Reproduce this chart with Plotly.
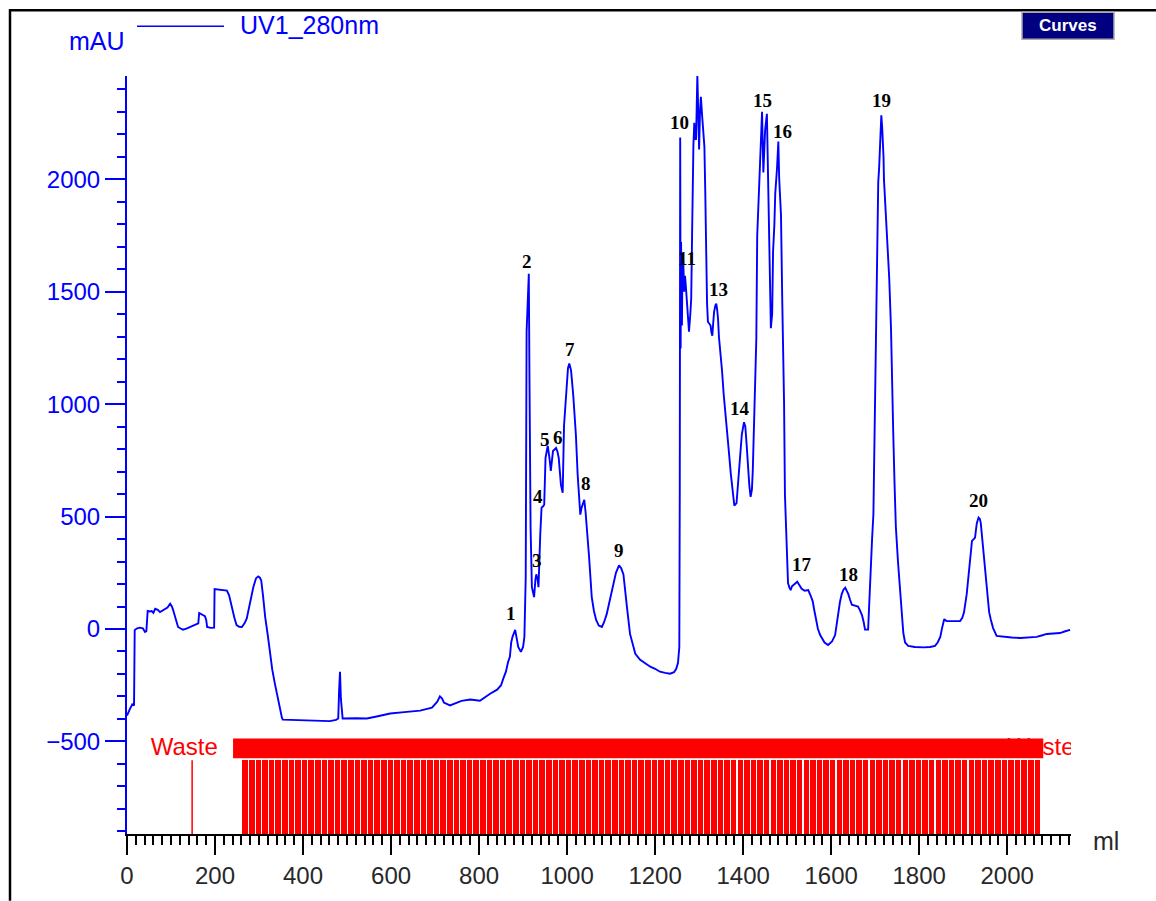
import plotly.graph_objects as go

# UV 280 nm chromatogram: elution volume (ml) vs absorbance (mAU)
volume_ml = [
    0, 3, 7, 12, 16, 17.5, 22, 29, 36, 41, 44, 47, 52, 56, 60, 64, 70, 75, 80, 86,
    92, 98, 102, 105, 110, 116, 122, 127, 135, 143, 150, 159, 162, 164, 170, 177, 180, 182, 190, 198,
    199, 210, 220, 227, 232, 238, 244, 249, 255, 261, 267, 272, 280, 287, 293, 298, 302, 305, 309, 314,
    320, 325, 330, 336, 342, 348, 352, 354, 380, 416, 440, 461, 475, 480, 482, 484, 486, 488, 490, 520,
    545, 570, 598, 630, 666, 693, 705, 711, 716, 720, 734, 760, 780, 802, 815, 825, 841, 850, 855, 861,
    866, 870, 873, 876, 882, 886, 889, 895, 900, 903, 906, 908, 911, 913, 914.5, 917, 920, 923, 925, 928,
    930, 933, 935, 939, 942, 945, 948, 951, 956, 960, 963, 968, 972, 975, 978, 981, 986, 990, 993, 996,
    999, 1002, 1005, 1009, 1014, 1020, 1024, 1030, 1033, 1036, 1039, 1042, 1045, 1050, 1056, 1061, 1066, 1072, 1079, 1084,
    1090, 1097, 1105, 1111, 1118, 1123, 1128, 1132, 1136, 1143, 1150, 1155, 1166, 1178, 1189, 1200, 1211, 1223, 1234, 1243,
    1248, 1252, 1255, 1256, 1257, 1258, 1259, 1261, 1262, 1264, 1266, 1268, 1270, 1272, 1275, 1277, 1280, 1282, 1284, 1285,
    1287, 1289, 1291, 1293, 1295, 1296, 1298, 1300, 1302, 1304, 1307, 1310, 1312, 1314, 1316, 1318, 1320, 1323, 1326, 1328,
    1330, 1332, 1334, 1337, 1339, 1341, 1343, 1345, 1348, 1352, 1356, 1360, 1364, 1368, 1372, 1377, 1380, 1385, 1390, 1393,
    1397, 1402, 1405, 1408, 1411, 1414, 1417, 1420, 1422, 1425, 1428, 1430, 1432, 1434, 1436, 1440, 1443, 1446, 1450, 1454,
    1456, 1459, 1463, 1466, 1468, 1471, 1473, 1477, 1480, 1482, 1486, 1489, 1493, 1495, 1499, 1502, 1505, 1508, 1511, 1514,
    1518, 1523, 1528, 1533, 1540, 1548, 1553, 1558, 1562, 1566, 1570, 1575, 1585, 1593, 1602, 1609, 1612, 1616, 1620, 1624,
    1628, 1632, 1636, 1639, 1643, 1647, 1654, 1661, 1665, 1670, 1674, 1677, 1684, 1686, 1689, 1693, 1696, 1698, 1700, 1702,
    1704, 1706, 1707, 1709, 1711, 1713, 1714, 1716, 1717, 1719, 1720, 1723, 1726, 1729, 1732, 1736, 1738, 1741, 1744, 1747,
    1752, 1757, 1760, 1764, 1768, 1775, 1790, 1810, 1825, 1836, 1842, 1848, 1852, 1857, 1860, 1863, 1878, 1893, 1898, 1902,
    1908, 1914, 1920, 1924, 1927, 1929, 1931, 1935, 1938, 1940, 1945, 1949, 1952, 1956, 1959, 1963, 1968, 1976, 1990, 2010,
    2030, 2050, 2067, 2080, 2090, 2105, 2120, 2132, 2143,
]
uv280_mau = [
    -385, -370, -354, -335, -340, -5, 2, 6, 3, -13, -10, 80, 78, 80, 72, 90, 85, 75, 82, 88,
    95, 112, 100, 83, 50, 9, 2, -3, 2, 9, 15, 23, 25, 71, 65, 57, 40, 9, 5, 6,
    178, 175, 172, 171, 150, 97, 50, 17, 10, 9, 25, 46, 120, 186, 225, 234, 228, 216, 150, 53,
    -30, -110, -180, -243, -305, -360, -395, -403, -405, -407, -409, -410, -404, -398, -271, -190, -310, -380, -398, -397,
    -398, -388, -376, -370, -363, -350, -323, -300, -310, -327, -340, -320, -314, -319, -300, -288, -270, -250, -221, -190,
    -146, -124, -60, -35, -4, -40, -80, -102, -80, -35, 230, 1323, 1500, 1580, 1115, 451, 186, 160, 142, 220,
    243, 220, 186, 420, 540, 545, 553, 761, 814, 760, 703, 792, 800, 805, 790, 761, 641, 606, 903, 1000,
    1071, 1160, 1181, 1150, 1040, 863, 686, 509, 540, 555, 575, 520, 451, 319, 142, 80, 40, 15, 9, 30,
    66, 130, 199, 250, 283, 270, 243, 180, 97, -22, -80, -110, -137, -155, -168, -177, -190, -195, -199, -192,
    -177, -150, -80, 600, 2186, 1248, 1721, 1350, 1600, 1633, 1500, 1571, 1520, 1456, 1380, 1323, 1400, 1469, 1750, 2000,
    2150, 2252, 2180, 2177, 2350, 2465, 2300, 2133, 2300, 2367, 2279, 2200, 2146, 1942, 1588, 1450, 1367, 1360, 1350, 1320,
    1305, 1360, 1411, 1440, 1447, 1420, 1380, 1300, 1248, 1150, 1040, 960, 894, 780, 690, 584, 549, 560, 700, 757,
    865, 920, 900, 819, 708, 640, 588, 620, 708, 969, 1150, 1292, 1748, 1850, 1969, 2119, 2301, 2031, 2221, 2292,
    2031, 1700, 1338, 1403, 1677, 1800, 1938, 2049, 2168, 2000, 1843, 1449, 1009, 597, 360, 204, 185, 173, 190, 195,
    200, 210, 195, 179, 170, 173, 150, 124, 80, 31, 0, -27, -60, -71, -55, -27, 20, 75, 120, 155,
    175, 184, 170, 155, 130, 108, 104, 100, 85, 62, 30, -3, -3, 100, 235, 400, 510, 800, 1022, 1300,
    1591, 1800, 1987, 2050, 2150, 2200, 2285, 2230, 2190, 2100, 2000, 1900, 1780, 1680, 1559, 1338, 1100, 880, 650, 456,
    296, 173, 90, -18, -60, -75, -80, -82, -80, -75, -60, -35, 4, 44, 38, 35, 35, 35, 50, 75,
    155, 283, 392, 400, 407, 440, 471, 496, 490, 471, 360, 280, 204, 130, 75, 40, 4, -31, -35, -38,
    -40, -38, -35, -28, -22, -20, -18, -10, -4,
]

# Peak numbering: apex volume (ml) and label height (mAU)
peak_names = [str(i) for i in range(1, 21)]
peak_ml = [873, 909, 932, 934, 950, 980, 1007, 1043, 1118, 1255,
           1273, 1298, 1345, 1393, 1445, 1489, 1534, 1639, 1714, 1934]
peak_label_mau = [71, 1637, 305, 588, 845, 850, 1243, 646, 350, 2252,
                  1650, 2504, 1509, 982, 2350, 2212, 288, 243, 2350, 571]

# Fraction collector: waste marks and collected fractions
waste_mark_ml = [148]
waste_label_ml = [130, 2077]
fraction_start_ml = 261
fraction_volume_ml = 15
fraction_count = 121

W, H = 1156, 901
L, R, T, B = 127, 85, 76, 63
PW, PH = W - L - R, H - T - B
X_RANGE = [0, 2145]
Y_RANGE = [-912, 2460]

BLUE = "rgb(0,0,255)"
RED = "rgb(255,0,0)"
SANS = "Liberation Sans, Arial, sans-serif"
SERIF = "Liberation Serif, Times New Roman, serif"


def pxx(x):
    return (x - L) / PW


def pxy(y):
    return (H - B - y) / PH


band_top, band_bottom, stripe_top = -487, -575, -584

fig = go.Figure()

# collected fractions as red stripes
frac_centers = [fraction_start_ml + fraction_volume_ml * (i + 0.5) for i in range(fraction_count)]
fig.add_trace(go.Bar(
    x=frac_centers,
    y=[stripe_top - Y_RANGE[0]] * fraction_count,
    base=Y_RANGE[0],
    width=fraction_volume_ml - 2.4,
    marker=dict(color=RED, line=dict(width=0)),
    hoverinfo="skip", showlegend=False,
))

# waste fraction mark
for m in waste_mark_ml:
    fig.add_trace(go.Scatter(
        x=[m, m], y=[stripe_top, Y_RANGE[0]], mode="lines",
        line=dict(color=RED, width=1.5), hoverinfo="skip", showlegend=False,
    ))

# fraction labels (the last one sits partly under the label band)
fig.add_trace(go.Scatter(
    x=waste_label_ml, y=[(band_top + band_bottom) / 2 - 5] * len(waste_label_ml),
    mode="text", text=["Waste"] * len(waste_label_ml), textposition="middle center",
    textfont=dict(family=SANS, size=24, color=RED),
    hoverinfo="skip", showlegend=False,
))

# chromatogram
fig.add_trace(go.Scatter(
    x=volume_ml, y=uv280_mau, mode="lines",
    line=dict(color=BLUE, width=1.9),
    name="UV1_280nm", showlegend=False, hoverinfo="x+y",
))

shapes = [
    # overlapping fraction label band
    dict(type="rect", xref="x", yref="y", x0=241, x1=2082, y0=band_bottom, y1=band_top,
         fillcolor=RED, line=dict(width=0), layer="above"),
    # window frame
    dict(type="line", xref="paper", yref="paper", x0=pxx(10), x1=pxx(10), y0=pxy(9), y1=pxy(905),
         line=dict(color="black", width=2.5)),
    dict(type="line", xref="paper", yref="paper", x0=pxx(9), x1=pxx(1160), y0=pxy(10), y1=pxy(10),
         line=dict(color="black", width=2.5)),
    # legend line
    dict(type="line", xref="paper", yref="paper", x0=pxx(137), x1=pxx(224), y0=pxy(26), y1=pxy(26),
         line=dict(color=BLUE, width=1.5)),
    # Curves button
    dict(type="rect", xref="paper", yref="paper", x0=pxx(1022), x1=pxx(1114), y0=pxy(39), y1=pxy(12),
         fillcolor="rgb(0,0,128)", line=dict(color="rgb(170,170,170)", width=1.5)),
]

annotations = [
    dict(text="mAU", xref="paper", yref="paper", x=pxx(97), y=pxy(41), showarrow=False,
         xanchor="center", yanchor="middle", font=dict(family=SANS, size=25, color=BLUE)),
    dict(text="UV1_280nm", xref="paper", yref="paper", x=pxx(238), y=pxy(25), showarrow=False,
         xanchor="left", yanchor="middle", font=dict(family=SANS, size=25, color=BLUE)),
    dict(text="ml", xref="paper", yref="paper", x=pxx(1091), y=pxy(845), showarrow=False,
         xanchor="left", yanchor="middle", font=dict(family=SANS, size=25, color="rgb(40,40,40)")),
    dict(text="<b>Curves</b>", xref="paper", yref="paper", x=pxx(1068), y=pxy(25.5), showarrow=False,
         xanchor="center", yanchor="middle", font=dict(family=SANS, size=17, color="white")),
]
for name, xm, ym in zip(peak_names, peak_ml, peak_label_mau):
    annotations.append(dict(
        text="<b>%s</b>" % name, x=xm, y=ym, xref="x", yref="y", showarrow=False,
        xanchor="center", yanchor="middle", font=dict(family=SERIF, size=19, color="black"),
    ))

fig.update_layout(
    width=W, height=H,
    margin=dict(l=L, r=R, t=T, b=B, pad=0),
    paper_bgcolor="white", plot_bgcolor="white",
    showlegend=False, bargap=0,
    shapes=shapes, annotations=annotations,
    xaxis=dict(
        range=X_RANGE, tick0=0, dtick=200, showgrid=False, zeroline=False,
        showline=True, linecolor="black", linewidth=2,
        ticks="outside", ticklen=19, tickwidth=2, tickcolor="black",
        tickfont=dict(family=SANS, size=24, color="rgb(40,40,40)"),
        minor=dict(tick0=0, dtick=20, ticks="outside", ticklen=9, tickwidth=1.5,
                   tickcolor="black", showgrid=False),
    ),
    yaxis=dict(
        range=Y_RANGE, tick0=0, dtick=500, showgrid=False, zeroline=False,
        showline=True, linecolor=BLUE, linewidth=2,
        ticks="outside", ticklen=20, tickwidth=2, tickcolor=BLUE,
        tickfont=dict(family=SANS, size=24, color=BLUE),
        minor=dict(tick0=0, dtick=100, ticks="outside", ticklen=8, tickwidth=1.5,
                   tickcolor=BLUE, showgrid=False),
    ),
)

fig.write_html("out.html")
